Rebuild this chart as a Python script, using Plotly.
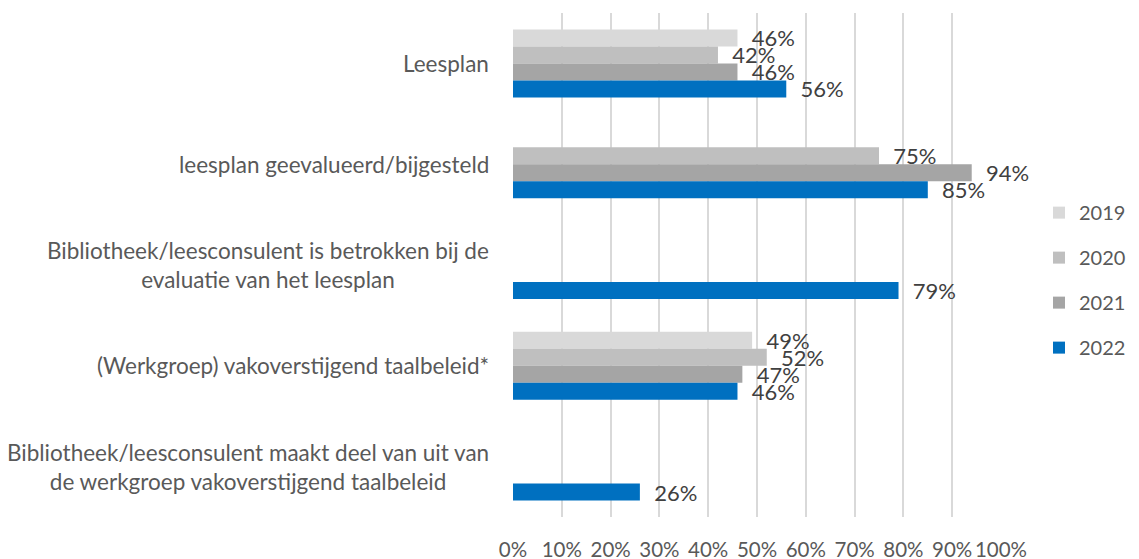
import plotly.graph_objects as go

categories = [
    "Leesplan",
    "leesplan geevalueerd/bijgesteld",
    "Bibliotheek/leesconsulent is betrokken bij de<br>evaluatie van het leesplan",
    "(Werkgroep) vakoverstijgend taalbeleid*",
    "Bibliotheek/leesconsulent maakt deel van uit van<br>de werkgroep vakoverstijgend taalbeleid",
]
years = ["2019", "2020", "2021", "2022"]
v2019 = [0.46, None, None, 0.49, None]
v2020 = [0.42, 0.75, None, 0.52, None]
v2021 = [0.46, 0.94, None, 0.47, None]
v2022 = [0.56, 0.85, 0.79, 0.46, 0.26]
colors = ["#D9D9D9", "#BFBFBF", "#A5A5A5", "#0070C0"]
xticks = [0, 0.1, 0.2, 0.3, 0.4, 0.5, 0.6, 0.7, 0.8, 0.9, 1.0]
xticklabels = ["0%", "10%", "20%", "30%", "40%", "50%", "60%", "70%", "80%", "90%", "100%"]

FONT = "Lato"
fig = go.Figure()
for name, vals, col in zip(years, [v2019, v2020, v2021, v2022], colors):
    fig.add_trace(go.Bar(
        y=categories, x=vals, name=name, orientation="h",
        marker=dict(color=col, line=dict(width=0)),
        text=[("  " + f"{v*100:.0f}%") if v is not None else "" for v in vals],
        textposition="outside", cliponaxis=False, constraintext="none",
        textfont=dict(family=FONT, size=22, color="#404040"),
        legendgroup=name,
    ))

for c in categories:
    fig.add_annotation(
        x=0, xref="paper", y=c, yref="y", xshift=-22,
        text=c, showarrow=False, xanchor="right", align="center",
        font=dict(family=FONT, size=22.5, color="#595959"),
    )

# page body has an 8px margin, so the figure is offset by 8px
fig.update_layout(
    width=1123, height=551,
    margin=dict(l=505, r=129.5, t=5, b=42, autoexpand=False),
    barmode="group", bargap=0.325, bargroupgap=0,
    plot_bgcolor="white", paper_bgcolor="white",
    font=dict(family=FONT, color="#595959"),
    legend=dict(xref="container", x=1.0, y=0.47, xanchor="right", yanchor="middle",
                font=dict(family=FONT, size=20, color="#595959"),
                tracegroupgap=16, itemwidth=30, borderwidth=0),
    xaxis=dict(range=[0, 1], tickvals=xticks, ticktext=xticklabels,
               showgrid=True, gridcolor="#D9D9D9", gridwidth=1.5,
               zeroline=False, showline=False, ticks="", tickangle=0,
               tickfont=dict(family=FONT, size=20.5, color="#595959"),
               ticklabelstandoff=18),
    yaxis=dict(autorange="reversed", showticklabels=False, showgrid=False,
               zeroline=False, showline=False, ticks=""),
)
fig.write_html("out.html")
